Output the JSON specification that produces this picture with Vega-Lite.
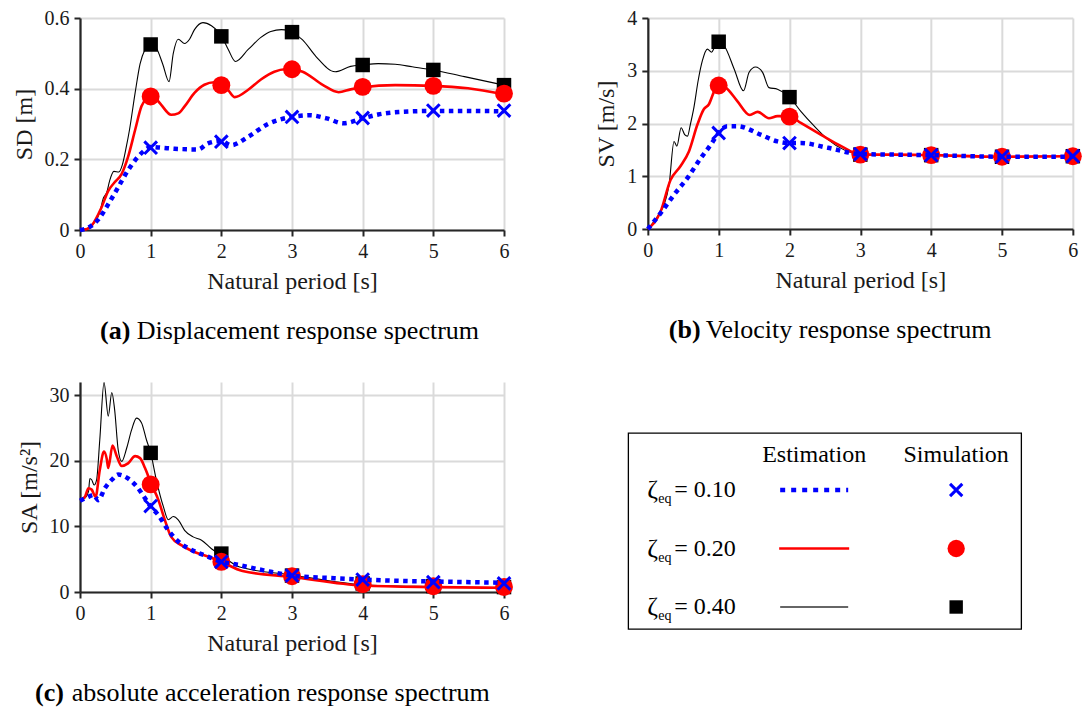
{
"$schema": "https://vega.github.io/schema/vega-lite/v6.json",
"background": "white",
"padding": {"left": 12, "top": 8, "right": 5, "bottom": 5},
"config": {
 "font": "Liberation Serif",
 "view": {"stroke": null},
 "axis": {"labelFont": "Liberation Serif", "titleFont": "Liberation Serif", "labelFontSize": 20, "titleFontSize": 24, "titleFontWeight": "normal", "labelColor": "#1a1a1a", "titleColor": "#1a1a1a", "domainColor": "#262626", "domainWidth": 2.2, "tickColor": "#262626", "tickWidth": 2, "tickSize": 6, "gridColor": "#dadada", "gridWidth": 2, "labelPadding": 5, "titlePadding": 8, "labelFlush": false},
 "title": {"font": "Liberation Serif", "fontSize": 26, "fontWeight": "bold", "color": "#000", "orient": "bottom", "anchor": "start", "frame": "group", "subtitleFont": "Liberation Serif", "subtitleFontSize": 26, "subtitleFontWeight": "normal", "subtitleColor": "#000", "subtitlePadding": -26}
},
"datasets": {
 "est": [
  {"p":"D","z":"0.40","T":0,"v":0},{"p":"D","z":"0.40","T":0.1,"v":0.004},{"p":"D","z":"0.40","T":0.2,"v":0.02},{"p":"D","z":"0.40","T":0.28,"v":0.05},{"p":"D","z":"0.40","T":0.33,"v":0.09},{"p":"D","z":"0.40","T":0.38,"v":0.107},{"p":"D","z":"0.40","T":0.42,"v":0.14},{"p":"D","z":"0.40","T":0.48,"v":0.166},{"p":"D","z":"0.40","T":0.55,"v":0.164},{"p":"D","z":"0.40","T":0.6,"v":0.185},{"p":"D","z":"0.40","T":0.65,"v":0.23},{"p":"D","z":"0.40","T":0.7,"v":0.283},{"p":"D","z":"0.40","T":0.78,"v":0.388},{"p":"D","z":"0.40","T":0.85,"v":0.47},{"p":"D","z":"0.40","T":0.92,"v":0.511},{"p":"D","z":"0.40","T":1.0,"v":0.527},{"p":"D","z":"0.40","T":1.08,"v":0.515},{"p":"D","z":"0.40","T":1.17,"v":0.47},{"p":"D","z":"0.40","T":1.26,"v":0.42},{"p":"D","z":"0.40","T":1.32,"v":0.5},{"p":"D","z":"0.40","T":1.39,"v":0.54},{"p":"D","z":"0.40","T":1.48,"v":0.528},{"p":"D","z":"0.40","T":1.55,"v":0.54},{"p":"D","z":"0.40","T":1.62,"v":0.567},{"p":"D","z":"0.40","T":1.74,"v":0.587},{"p":"D","z":"0.40","T":1.86,"v":0.578},{"p":"D","z":"0.40","T":1.95,"v":0.562},{"p":"D","z":"0.40","T":2.0,"v":0.55},{"p":"D","z":"0.40","T":2.1,"v":0.51},{"p":"D","z":"0.40","T":2.2,"v":0.477},{"p":"D","z":"0.40","T":2.38,"v":0.511},{"p":"D","z":"0.40","T":2.56,"v":0.545},{"p":"D","z":"0.40","T":2.7,"v":0.562},{"p":"D","z":"0.40","T":2.85,"v":0.567},{"p":"D","z":"0.40","T":2.95,"v":0.565},{"p":"D","z":"0.40","T":3.0,"v":0.56},{"p":"D","z":"0.40","T":3.15,"v":0.538},{"p":"D","z":"0.40","T":3.34,"v":0.491},{"p":"D","z":"0.40","T":3.61,"v":0.448},{"p":"D","z":"0.40","T":3.83,"v":0.463},{"p":"D","z":"0.40","T":4.0,"v":0.467},{"p":"D","z":"0.40","T":4.22,"v":0.471},{"p":"D","z":"0.40","T":4.46,"v":0.469},{"p":"D","z":"0.40","T":4.7,"v":0.462},{"p":"D","z":"0.40","T":5.0,"v":0.453},{"p":"D","z":"0.40","T":5.44,"v":0.434},{"p":"D","z":"0.40","T":6.0,"v":0.41},
  {"p":"D","z":"0.20","T":0,"v":0},{"p":"D","z":"0.20","T":0.1,"v":0.003},{"p":"D","z":"0.20","T":0.17,"v":0.014},{"p":"D","z":"0.20","T":0.3,"v":0.062},{"p":"D","z":"0.20","T":0.4,"v":0.111},{"p":"D","z":"0.20","T":0.49,"v":0.135},{"p":"D","z":"0.20","T":0.59,"v":0.159},{"p":"D","z":"0.20","T":0.68,"v":0.207},{"p":"D","z":"0.20","T":0.78,"v":0.283},{"p":"D","z":"0.20","T":0.87,"v":0.35},{"p":"D","z":"0.20","T":0.94,"v":0.372},{"p":"D","z":"0.20","T":1.0,"v":0.378},{"p":"D","z":"0.20","T":1.08,"v":0.37},{"p":"D","z":"0.20","T":1.15,"v":0.354},{"p":"D","z":"0.20","T":1.29,"v":0.326},{"p":"D","z":"0.20","T":1.39,"v":0.33},{"p":"D","z":"0.20","T":1.48,"v":0.35},{"p":"D","z":"0.20","T":1.62,"v":0.388},{"p":"D","z":"0.20","T":1.76,"v":0.411},{"p":"D","z":"0.20","T":1.9,"v":0.418},{"p":"D","z":"0.20","T":2.0,"v":0.415},{"p":"D","z":"0.20","T":2.1,"v":0.395},{"p":"D","z":"0.20","T":2.19,"v":0.376},{"p":"D","z":"0.20","T":2.38,"v":0.397},{"p":"D","z":"0.20","T":2.56,"v":0.426},{"p":"D","z":"0.20","T":2.75,"v":0.448},{"p":"D","z":"0.20","T":2.9,"v":0.455},{"p":"D","z":"0.20","T":3.0,"v":0.455},{"p":"D","z":"0.20","T":3.15,"v":0.448},{"p":"D","z":"0.20","T":3.44,"v":0.41},{"p":"D","z":"0.20","T":3.66,"v":0.39},{"p":"D","z":"0.20","T":3.83,"v":0.398},{"p":"D","z":"0.20","T":4.0,"v":0.404},{"p":"D","z":"0.20","T":4.46,"v":0.41},{"p":"D","z":"0.20","T":5.0,"v":0.408},{"p":"D","z":"0.20","T":5.49,"v":0.401},{"p":"D","z":"0.20","T":6.0,"v":0.384},
  {"p":"D","z":"0.10","T":0,"v":0},{"p":"D","z":"0.10","T":0.12,"v":0.007},{"p":"D","z":"0.10","T":0.26,"v":0.03},{"p":"D","z":"0.10","T":0.4,"v":0.073},{"p":"D","z":"0.10","T":0.54,"v":0.121},{"p":"D","z":"0.10","T":0.68,"v":0.169},{"p":"D","z":"0.10","T":0.82,"v":0.207},{"p":"D","z":"0.10","T":0.92,"v":0.226},{"p":"D","z":"0.10","T":1.0,"v":0.235},{"p":"D","z":"0.10","T":1.15,"v":0.233},{"p":"D","z":"0.10","T":1.34,"v":0.23},{"p":"D","z":"0.10","T":1.67,"v":0.228},{"p":"D","z":"0.10","T":1.81,"v":0.245},{"p":"D","z":"0.10","T":2.0,"v":0.252},{"p":"D","z":"0.10","T":2.14,"v":0.24},{"p":"D","z":"0.10","T":2.38,"v":0.264},{"p":"D","z":"0.10","T":2.66,"v":0.3},{"p":"D","z":"0.10","T":3.0,"v":0.32},{"p":"D","z":"0.10","T":3.25,"v":0.325},{"p":"D","z":"0.10","T":3.49,"v":0.316},{"p":"D","z":"0.10","T":3.73,"v":0.302},{"p":"D","z":"0.10","T":4.0,"v":0.316},{"p":"D","z":"0.10","T":4.22,"v":0.327},{"p":"D","z":"0.10","T":4.51,"v":0.334},{"p":"D","z":"0.10","T":5.0,"v":0.337},{"p":"D","z":"0.10","T":5.49,"v":0.337},{"p":"D","z":"0.10","T":6.0,"v":0.336},
  {"p":"V","z":"0.40","T":0,"v":0},{"p":"V","z":"0.40","T":0.18,"v":0.33},{"p":"V","z":"0.40","T":0.23,"v":0.46},{"p":"V","z":"0.40","T":0.3,"v":0.84},{"p":"V","z":"0.40","T":0.37,"v":1.66},{"p":"V","z":"0.40","T":0.41,"v":1.57},{"p":"V","z":"0.40","T":0.47,"v":1.92},{"p":"V","z":"0.40","T":0.52,"v":1.79},{"p":"V","z":"0.40","T":0.56,"v":1.76},{"p":"V","z":"0.40","T":0.6,"v":1.98},{"p":"V","z":"0.40","T":0.65,"v":2.3},{"p":"V","z":"0.40","T":0.71,"v":2.81},{"p":"V","z":"0.40","T":0.77,"v":3.19},{"p":"V","z":"0.40","T":0.84,"v":3.41},{"p":"V","z":"0.40","T":0.9,"v":3.35},{"p":"V","z":"0.40","T":0.94,"v":3.44},{"p":"V","z":"0.40","T":1.0,"v":3.55},{"p":"V","z":"0.40","T":1.08,"v":3.47},{"p":"V","z":"0.40","T":1.22,"v":3.03},{"p":"V","z":"0.40","T":1.35,"v":2.62},{"p":"V","z":"0.40","T":1.43,"v":2.97},{"p":"V","z":"0.40","T":1.52,"v":3.07},{"p":"V","z":"0.40","T":1.62,"v":2.97},{"p":"V","z":"0.40","T":1.71,"v":2.68},{"p":"V","z":"0.40","T":1.83,"v":2.65},{"p":"V","z":"0.40","T":2.0,"v":2.5},{"p":"V","z":"0.40","T":2.16,"v":2.23},{"p":"V","z":"0.40","T":2.35,"v":1.95},{"p":"V","z":"0.40","T":2.54,"v":1.7},{"p":"V","z":"0.40","T":2.77,"v":1.5},{"p":"V","z":"0.40","T":3.0,"v":1.41},{"p":"V","z":"0.40","T":3.5,"v":1.41},{"p":"V","z":"0.40","T":4.0,"v":1.4},{"p":"V","z":"0.40","T":5.0,"v":1.37},{"p":"V","z":"0.40","T":6.0,"v":1.38},
  {"p":"V","z":"0.20","T":0,"v":0},{"p":"V","z":"0.20","T":0.18,"v":0.33},{"p":"V","z":"0.20","T":0.32,"v":0.93},{"p":"V","z":"0.20","T":0.46,"v":1.19},{"p":"V","z":"0.20","T":0.58,"v":1.47},{"p":"V","z":"0.20","T":0.7,"v":1.98},{"p":"V","z":"0.20","T":0.79,"v":2.27},{"p":"V","z":"0.20","T":0.86,"v":2.36},{"p":"V","z":"0.20","T":0.94,"v":2.62},{"p":"V","z":"0.20","T":1.0,"v":2.73},{"p":"V","z":"0.20","T":1.1,"v":2.68},{"p":"V","z":"0.20","T":1.26,"v":2.43},{"p":"V","z":"0.20","T":1.44,"v":2.16},{"p":"V","z":"0.20","T":1.55,"v":2.22},{"p":"V","z":"0.20","T":1.71,"v":2.1},{"p":"V","z":"0.20","T":1.83,"v":2.14},{"p":"V","z":"0.20","T":2.0,"v":2.14},{"p":"V","z":"0.20","T":2.16,"v":2.01},{"p":"V","z":"0.20","T":2.44,"v":1.79},{"p":"V","z":"0.20","T":2.73,"v":1.57},{"p":"V","z":"0.20","T":3.0,"v":1.41},{"p":"V","z":"0.20","T":3.48,"v":1.41},{"p":"V","z":"0.20","T":4.0,"v":1.4},{"p":"V","z":"0.20","T":5.0,"v":1.37},{"p":"V","z":"0.20","T":6.0,"v":1.38},
  {"p":"V","z":"0.10","T":0,"v":0},{"p":"V","z":"0.10","T":0.18,"v":0.3},{"p":"V","z":"0.10","T":0.37,"v":0.65},{"p":"V","z":"0.10","T":0.56,"v":0.97},{"p":"V","z":"0.10","T":0.75,"v":1.35},{"p":"V","z":"0.10","T":0.89,"v":1.6},{"p":"V","z":"0.10","T":1.0,"v":1.82},{"p":"V","z":"0.10","T":1.12,"v":1.95},{"p":"V","z":"0.10","T":1.26,"v":1.95},{"p":"V","z":"0.10","T":1.59,"v":1.79},{"p":"V","z":"0.10","T":1.83,"v":1.66},{"p":"V","z":"0.10","T":2.0,"v":1.63},{"p":"V","z":"0.10","T":2.16,"v":1.63},{"p":"V","z":"0.10","T":2.54,"v":1.54},{"p":"V","z":"0.10","T":3.0,"v":1.42},{"p":"V","z":"0.10","T":3.48,"v":1.41},{"p":"V","z":"0.10","T":4.0,"v":1.4},{"p":"V","z":"0.10","T":5.0,"v":1.37},{"p":"V","z":"0.10","T":6.0,"v":1.37},
  {"p":"A","z":"0.40","T":0,"v":14.0},{"p":"A","z":"0.40","T":0.07,"v":14.3},{"p":"A","z":"0.40","T":0.12,"v":15.3},{"p":"A","z":"0.40","T":0.14,"v":17.3},{"p":"A","z":"0.40","T":0.165,"v":17.1},{"p":"A","z":"0.40","T":0.2,"v":16.3},{"p":"A","z":"0.40","T":0.235,"v":17.1},{"p":"A","z":"0.40","T":0.28,"v":23.2},{"p":"A","z":"0.40","T":0.34,"v":31.9},{"p":"A","z":"0.40","T":0.4,"v":26.8},{"p":"A","z":"0.40","T":0.45,"v":30.4},{"p":"A","z":"0.40","T":0.49,"v":27.8},{"p":"A","z":"0.40","T":0.54,"v":21.7},{"p":"A","z":"0.40","T":0.59,"v":19.9},{"p":"A","z":"0.40","T":0.66,"v":21.9},{"p":"A","z":"0.40","T":0.73,"v":24.7},{"p":"A","z":"0.40","T":0.8,"v":26.5},{"p":"A","z":"0.40","T":0.87,"v":25.8},{"p":"A","z":"0.40","T":0.94,"v":23.2},{"p":"A","z":"0.40","T":1.0,"v":21.2},{"p":"A","z":"0.40","T":1.08,"v":17.1},{"p":"A","z":"0.40","T":1.18,"v":13.0},{"p":"A","z":"0.40","T":1.25,"v":11.0},{"p":"A","z":"0.40","T":1.32,"v":11.5},{"p":"A","z":"0.40","T":1.39,"v":11.0},{"p":"A","z":"0.40","T":1.48,"v":9.4},{"p":"A","z":"0.40","T":1.6,"v":8.4},{"p":"A","z":"0.40","T":1.72,"v":7.9},{"p":"A","z":"0.40","T":1.86,"v":6.6},{"p":"A","z":"0.40","T":2.0,"v":5.6},{"p":"A","z":"0.40","T":2.26,"v":3.8},{"p":"A","z":"0.40","T":3.0,"v":2.6},{"p":"A","z":"0.40","T":4.0,"v":1.1},{"p":"A","z":"0.40","T":5.0,"v":0.8},{"p":"A","z":"0.40","T":6.0,"v":0.6},
  {"p":"A","z":"0.20","T":0,"v":14.0},{"p":"A","z":"0.20","T":0.07,"v":14.5},{"p":"A","z":"0.20","T":0.12,"v":15.8},{"p":"A","z":"0.20","T":0.165,"v":15.6},{"p":"A","z":"0.20","T":0.22,"v":14.5},{"p":"A","z":"0.20","T":0.28,"v":18.6},{"p":"A","z":"0.20","T":0.34,"v":21.4},{"p":"A","z":"0.20","T":0.38,"v":20.2},{"p":"A","z":"0.20","T":0.4,"v":18.9},{"p":"A","z":"0.20","T":0.46,"v":22.3},{"p":"A","z":"0.20","T":0.52,"v":20.7},{"p":"A","z":"0.20","T":0.59,"v":19.2},{"p":"A","z":"0.20","T":0.68,"v":19.6},{"p":"A","z":"0.20","T":0.78,"v":20.7},{"p":"A","z":"0.20","T":0.85,"v":20.4},{"p":"A","z":"0.20","T":0.92,"v":18.9},{"p":"A","z":"0.20","T":1.0,"v":16.7},{"p":"A","z":"0.20","T":1.11,"v":14.0},{"p":"A","z":"0.20","T":1.2,"v":11.0},{"p":"A","z":"0.20","T":1.29,"v":8.4},{"p":"A","z":"0.20","T":1.44,"v":7.1},{"p":"A","z":"0.20","T":1.62,"v":6.1},{"p":"A","z":"0.20","T":1.81,"v":5.4},{"p":"A","z":"0.20","T":2.0,"v":4.6},{"p":"A","z":"0.20","T":2.3,"v":3.2},{"p":"A","z":"0.20","T":3.0,"v":2.3},{"p":"A","z":"0.20","T":4.0,"v":1.0},{"p":"A","z":"0.20","T":5.0,"v":0.75},{"p":"A","z":"0.20","T":6.0,"v":0.65},
  {"p":"A","z":"0.10","T":0,"v":13.9},{"p":"A","z":"0.10","T":0.12,"v":14.5},{"p":"A","z":"0.10","T":0.19,"v":14.8},{"p":"A","z":"0.10","T":0.26,"v":14.0},{"p":"A","z":"0.10","T":0.35,"v":15.8},{"p":"A","z":"0.10","T":0.45,"v":17.1},{"p":"A","z":"0.10","T":0.54,"v":17.9},{"p":"A","z":"0.10","T":0.68,"v":17.3},{"p":"A","z":"0.10","T":0.8,"v":16.1},{"p":"A","z":"0.10","T":0.92,"v":14.3},{"p":"A","z":"0.10","T":1.0,"v":13.0},{"p":"A","z":"0.10","T":1.11,"v":11.7},{"p":"A","z":"0.10","T":1.25,"v":9.4},{"p":"A","z":"0.10","T":1.39,"v":7.7},{"p":"A","z":"0.10","T":1.58,"v":6.4},{"p":"A","z":"0.10","T":1.81,"v":5.4},{"p":"A","z":"0.10","T":2.0,"v":4.6},{"p":"A","z":"0.10","T":2.16,"v":4.3},{"p":"A","z":"0.10","T":2.6,"v":3.3},{"p":"A","z":"0.10","T":3.0,"v":2.5},{"p":"A","z":"0.10","T":3.6,"v":2.1},{"p":"A","z":"0.10","T":4.0,"v":1.9},{"p":"A","z":"0.10","T":4.5,"v":1.7},{"p":"A","z":"0.10","T":5.0,"v":1.6},{"p":"A","z":"0.10","T":6.0,"v":1.4}
 ],
 "sim": [
  {"p":"D","z":"0.40","T":1,"v":0.525},{"p":"D","z":"0.40","T":2,"v":0.548},{"p":"D","z":"0.40","T":3,"v":0.56},{"p":"D","z":"0.40","T":4,"v":0.467},{"p":"D","z":"0.40","T":5,"v":0.453},{"p":"D","z":"0.40","T":6,"v":0.41},
  {"p":"D","z":"0.20","T":1,"v":0.378},{"p":"D","z":"0.20","T":2,"v":0.41},{"p":"D","z":"0.20","T":3,"v":0.455},{"p":"D","z":"0.20","T":4,"v":0.405},{"p":"D","z":"0.20","T":5,"v":0.408},{"p":"D","z":"0.20","T":6,"v":0.386},
  {"p":"D","z":"0.10","T":1,"v":0.233},{"p":"D","z":"0.10","T":2,"v":0.25},{"p":"D","z":"0.10","T":3,"v":0.32},{"p":"D","z":"0.10","T":4,"v":0.317},{"p":"D","z":"0.10","T":5,"v":0.338},{"p":"D","z":"0.10","T":6,"v":0.338},
  {"p":"V","z":"0.40","T":1,"v":3.55},{"p":"V","z":"0.40","T":2,"v":2.5},{"p":"V","z":"0.40","T":3,"v":1.41},{"p":"V","z":"0.40","T":4,"v":1.4},{"p":"V","z":"0.40","T":5,"v":1.37},{"p":"V","z":"0.40","T":6,"v":1.38},
  {"p":"V","z":"0.20","T":1,"v":2.72},{"p":"V","z":"0.20","T":2,"v":2.13},{"p":"V","z":"0.20","T":3,"v":1.41},{"p":"V","z":"0.20","T":4,"v":1.4},{"p":"V","z":"0.20","T":5,"v":1.37},{"p":"V","z":"0.20","T":6,"v":1.38},
  {"p":"V","z":"0.10","T":1,"v":1.82},{"p":"V","z":"0.10","T":2,"v":1.63},{"p":"V","z":"0.10","T":3,"v":1.42},{"p":"V","z":"0.10","T":4,"v":1.4},{"p":"V","z":"0.10","T":5,"v":1.37},{"p":"V","z":"0.10","T":6,"v":1.38},
  {"p":"A","z":"0.40","T":1,"v":21.2},{"p":"A","z":"0.40","T":2,"v":5.85},{"p":"A","z":"0.40","T":3,"v":2.5},{"p":"A","z":"0.40","T":4,"v":1.3},{"p":"A","z":"0.40","T":5,"v":0.9},{"p":"A","z":"0.40","T":6,"v":0.75},
  {"p":"A","z":"0.20","T":1,"v":16.4},{"p":"A","z":"0.20","T":2,"v":4.6},{"p":"A","z":"0.20","T":3,"v":2.4},{"p":"A","z":"0.20","T":4,"v":1.2},{"p":"A","z":"0.20","T":5,"v":0.87},{"p":"A","z":"0.20","T":6,"v":0.77},
  {"p":"A","z":"0.10","T":1,"v":13.1},{"p":"A","z":"0.10","T":2,"v":4.6},{"p":"A","z":"0.10","T":3,"v":2.5},{"p":"A","z":"0.10","T":4,"v":1.9},{"p":"A","z":"0.10","T":5,"v":1.5},{"p":"A","z":"0.10","T":6,"v":1.3}
 ],
 "leg": [{"z":"0.10"},{"z":"0.20"},{"z":"0.40"}],
 "hdr": [{"col":"Estimation"},{"col":"Simulation"}]
},
"spacing": 77,
"hconcat": [
 {"spacing": 36, "vconcat": [
  {"width": 424, "height": 212,
   "title": {"text": "(a)", "subtitle": "\u200d\u2003\u2005\u2006Displacement response spectrum", "dx": 20, "offset": 25},
   "encoding": {
    "x": {"field": "T", "type": "quantitative", "scale": {"domain": [0, 6], "nice": false}, "axis": {"values": [0,1,2,3,4,5,6], "title": "Natural period [s]"}},
    "y": {"field": "v", "type": "quantitative", "scale": {"domain": [0, 0.6], "nice": false}, "axis": {"values": [0,0.2,0.4,0.6], "format": "~r", "title": "SD [m]"}}
   },
   "layer": [
    {"data": {"name": "est"}, "transform": [{"filter": "datum.p === 'D' && datum.z === '0.40'"}], "mark": {"type": "line", "color": "#000", "strokeWidth": 1.1, "interpolate": "monotone"}, "encoding": {}},
    {"data": {"name": "sim"}, "transform": [{"filter": "datum.p === 'D' && datum.z === '0.40'"}], "mark": {"type": "point", "shape": "square", "filled": true, "color": "#000", "size": 210, "opacity": 1}, "encoding": {}},
    {"data": {"name": "est"}, "transform": [{"filter": "datum.p === 'D' && datum.z === '0.20'"}], "mark": {"type": "line", "color": "#ff0000", "strokeWidth": 2.6, "interpolate": "monotone"}, "encoding": {}},
    {"data": {"name": "sim"}, "transform": [{"filter": "datum.p === 'D' && datum.z === '0.20'"}], "mark": {"type": "point", "shape": "circle", "filled": true, "color": "#ff0000", "size": 320, "opacity": 1}, "encoding": {}},
    {"data": {"name": "est"}, "transform": [{"filter": "datum.p === 'D' && datum.z === '0.10'"}], "mark": {"type": "line", "color": "#0000ff", "strokeWidth": 4.5, "strokeDash": [4.5, 4.5], "strokeCap": "butt", "interpolate": "monotone"}, "encoding": {}},
    {"data": {"name": "sim"}, "transform": [{"filter": "datum.p === 'D' && datum.z === '0.10'"}], "mark": {"type": "point", "shape": "M-1,-1L1,1M-1,1L1,-1", "filled": false, "color": "#0000ff", "strokeWidth": 3, "size": 160, "opacity": 1}, "encoding": {}}
   ]
  },
  {"width": 424, "height": 210,
   "title": {"text": "(c)", "subtitle": "\u200d\u2003\u2005\u2006absolute acceleration response spectrum", "dx": -45, "offset": 25},
   "encoding": {
    "x": {"field": "T", "type": "quantitative", "scale": {"domain": [0, 6], "nice": false}, "axis": {"values": [0,1,2,3,4,5,6], "title": "Natural period [s]"}},
    "y": {"field": "v", "type": "quantitative", "scale": {"domain": [0, 32], "nice": false}, "axis": {"values": [0,10,20,30], "format": "~r", "title": "SA [m/s²]"}}
   },
   "layer": [
    {"data": {"name": "est"}, "transform": [{"filter": "datum.p === 'A' && datum.z === '0.40'"}], "mark": {"type": "line", "color": "#000", "strokeWidth": 1.1, "interpolate": "monotone"}, "encoding": {}},
    {"data": {"name": "sim"}, "transform": [{"filter": "datum.p === 'A' && datum.z === '0.40'"}], "mark": {"type": "point", "shape": "square", "filled": true, "color": "#000", "size": 210, "opacity": 1}, "encoding": {}},
    {"data": {"name": "est"}, "transform": [{"filter": "datum.p === 'A' && datum.z === '0.20'"}], "mark": {"type": "line", "color": "#ff0000", "strokeWidth": 2.6, "interpolate": "monotone"}, "encoding": {}},
    {"data": {"name": "sim"}, "transform": [{"filter": "datum.p === 'A' && datum.z === '0.20'"}], "mark": {"type": "point", "shape": "circle", "filled": true, "color": "#ff0000", "size": 320, "opacity": 1}, "encoding": {}},
    {"data": {"name": "est"}, "transform": [{"filter": "datum.p === 'A' && datum.z === '0.10'"}], "mark": {"type": "line", "color": "#0000ff", "strokeWidth": 4.5, "strokeDash": [4.5, 4.5], "strokeCap": "butt", "interpolate": "monotone"}, "encoding": {}},
    {"data": {"name": "sim"}, "transform": [{"filter": "datum.p === 'A' && datum.z === '0.10'"}], "mark": {"type": "point", "shape": "M-1,-1L1,1M-1,1L1,-1", "filled": false, "color": "#0000ff", "strokeWidth": 3, "size": 160, "opacity": 1}, "encoding": {}}
   ]
  }
 ]},
 {"spacing": 89, "center": true, "vconcat": [
  {"width": 425, "height": 211,
   "title": {"text": "(b)", "subtitle": "\u200d\u2003\u2005\u2006Velocity response spectrum", "dx": 21, "offset": 25},
   "encoding": {
    "x": {"field": "T", "type": "quantitative", "scale": {"domain": [0, 6], "nice": false}, "axis": {"values": [0,1,2,3,4,5,6], "title": "Natural period [s]"}},
    "y": {"field": "v", "type": "quantitative", "scale": {"domain": [0, 4], "nice": false}, "axis": {"values": [0,1,2,3,4], "format": "~r", "title": "SV [m/s]"}}
   },
   "layer": [
    {"data": {"name": "est"}, "transform": [{"filter": "datum.p === 'V' && datum.z === '0.40'"}], "mark": {"type": "line", "color": "#000", "strokeWidth": 1.1, "interpolate": "monotone"}, "encoding": {}},
    {"data": {"name": "sim"}, "transform": [{"filter": "datum.p === 'V' && datum.z === '0.40'"}], "mark": {"type": "point", "shape": "square", "filled": true, "color": "#000", "size": 210, "opacity": 1}, "encoding": {}},
    {"data": {"name": "est"}, "transform": [{"filter": "datum.p === 'V' && datum.z === '0.20'"}], "mark": {"type": "line", "color": "#ff0000", "strokeWidth": 2.6, "interpolate": "monotone"}, "encoding": {}},
    {"data": {"name": "sim"}, "transform": [{"filter": "datum.p === 'V' && datum.z === '0.20'"}], "mark": {"type": "point", "shape": "circle", "filled": true, "color": "#ff0000", "size": 320, "opacity": 1}, "encoding": {}},
    {"data": {"name": "est"}, "transform": [{"filter": "datum.p === 'V' && datum.z === '0.10'"}], "mark": {"type": "line", "color": "#0000ff", "strokeWidth": 4.5, "strokeDash": [4.5, 4.5], "strokeCap": "butt", "interpolate": "monotone"}, "encoding": {}},
    {"data": {"name": "sim"}, "transform": [{"filter": "datum.p === 'V' && datum.z === '0.10'"}], "mark": {"type": "point", "shape": "M-1,-1L1,1M-1,1L1,-1", "filled": false, "color": "#0000ff", "strokeWidth": 3, "size": 160, "opacity": 1}, "encoding": {}}
   ]
  },
  {"width": 393, "height": 196,
   "view": {"stroke": "#000", "strokeWidth": 1.3},
   "layer": [
    {"data": {"name": "hdr"}, "mark": {"type": "text", "fontSize": 24, "font": "Liberation Serif", "color": "#000", "dy": -35},
     "encoding": {"x": {"field": "col", "type": "nominal", "scale": {"type": "point", "padding": 0, "domain": ["label","Estimation","Simulation"], "range": [44,328]}, "axis": null},
                  "y": {"datum": "0.10", "type": "nominal", "scale": {"type": "point", "padding": 0, "domain": ["0.10","0.20","0.40"], "range": [57,174]}, "axis": {"orient": "left", "labels": false, "ticks": false, "grid": false, "title": null, "domain": true, "domainColor": "transparent", "offset": -476}},
                  "text": {"field": "col"}}},
    {"data": {"name": "leg"}, "mark": {"type": "text", "text": "ζ", "align": "left", "fontSize": 26, "font": "Liberation Serif", "color": "#000", "dx": -25},
     "encoding": {"x": {"datum": "label", "type": "nominal", "scale": {"type": "point", "padding": 0, "domain": ["label","Estimation","Simulation"], "range": [44,328]}, "axis": null},
                  "y": {"field": "z", "type": "nominal", "scale": {"type": "point", "padding": 0, "domain": ["0.10","0.20","0.40"], "range": [57,174]}, "axis": {"orient": "left", "labels": false, "ticks": false, "grid": false, "title": null, "domain": true, "domainColor": "transparent", "offset": -476}}}},
    {"data": {"name": "leg"}, "mark": {"type": "text", "text": "eq", "align": "left", "fontSize": 14, "font": "Liberation Serif", "color": "#000", "dx": -14, "dy": 9},
     "encoding": {"x": {"datum": "label", "type": "nominal", "scale": {"type": "point", "padding": 0, "domain": ["label","Estimation","Simulation"], "range": [44,328]}, "axis": null},
                  "y": {"field": "z", "type": "nominal", "scale": {"type": "point", "padding": 0, "domain": ["0.10","0.20","0.40"], "range": [57,174]}, "axis": {"orient": "left", "labels": false, "ticks": false, "grid": false, "title": null, "domain": true, "domainColor": "transparent", "offset": -476}}}},
    {"data": {"name": "leg"}, "transform": [{"calculate": "'= ' + datum.z", "as": "lab"}], "mark": {"type": "text", "align": "left", "fontSize": 24, "font": "Liberation Serif", "color": "#000", "dx": 2},
     "encoding": {"x": {"datum": "label", "type": "nominal", "scale": {"type": "point", "padding": 0, "domain": ["label","Estimation","Simulation"], "range": [44,328]}, "axis": null},
                  "y": {"field": "z", "type": "nominal", "scale": {"type": "point", "padding": 0, "domain": ["0.10","0.20","0.40"], "range": [57,174]}, "axis": {"orient": "left", "labels": false, "ticks": false, "grid": false, "title": null, "domain": true, "domainColor": "transparent", "offset": -476}},
                  "text": {"field": "lab"}}},
    {"data": {"name": "leg"}, "transform": [{"filter": "datum.z === '0.10'"}], "mark": {"type": "rule", "color": "#0000ff", "strokeWidth": 4.5, "strokeDash": [5, 6], "strokeCap": "butt", "xOffset": -34, "x2Offset": 34},
     "encoding": {"x": {"datum": "Estimation", "type": "nominal", "scale": {"type": "point", "padding": 0, "domain": ["label","Estimation","Simulation"], "range": [44,328]}, "axis": null}, "x2": {"datum": "Estimation"},
                  "y": {"field": "z", "type": "nominal", "scale": {"type": "point", "padding": 0, "domain": ["0.10","0.20","0.40"], "range": [57,174]}, "axis": {"orient": "left", "labels": false, "ticks": false, "grid": false, "title": null, "domain": true, "domainColor": "transparent", "offset": -476}}}},
    {"data": {"name": "leg"}, "transform": [{"filter": "datum.z === '0.20'"}], "mark": {"type": "rule", "color": "#ff0000", "strokeWidth": 2.6, "xOffset": -35, "x2Offset": 35},
     "encoding": {"x": {"datum": "Estimation", "type": "nominal", "scale": {"type": "point", "padding": 0, "domain": ["label","Estimation","Simulation"], "range": [44,328]}, "axis": null}, "x2": {"datum": "Estimation"},
                  "y": {"field": "z", "type": "nominal", "scale": {"type": "point", "padding": 0, "domain": ["0.10","0.20","0.40"], "range": [57,174]}, "axis": {"orient": "left", "labels": false, "ticks": false, "grid": false, "title": null, "domain": true, "domainColor": "transparent", "offset": -476}}}},
    {"data": {"name": "leg"}, "transform": [{"filter": "datum.z === '0.40'"}], "mark": {"type": "rule", "color": "#333", "strokeWidth": 1.3, "xOffset": -34, "x2Offset": 34},
     "encoding": {"x": {"datum": "Estimation", "type": "nominal", "scale": {"type": "point", "padding": 0, "domain": ["label","Estimation","Simulation"], "range": [44,328]}, "axis": null}, "x2": {"datum": "Estimation"},
                  "y": {"field": "z", "type": "nominal", "scale": {"type": "point", "padding": 0, "domain": ["0.10","0.20","0.40"], "range": [57,174]}, "axis": {"orient": "left", "labels": false, "ticks": false, "grid": false, "title": null, "domain": true, "domainColor": "transparent", "offset": -476}}}},
    {"data": {"name": "leg"}, "transform": [{"filter": "datum.z === '0.10'"}], "mark": {"type": "point", "shape": "M-1,-1L1,1M-1,1L1,-1", "filled": false, "color": "#0000ff", "strokeWidth": 3, "size": 150, "opacity": 1},
     "encoding": {"x": {"datum": "Simulation", "type": "nominal", "scale": {"type": "point", "padding": 0, "domain": ["label","Estimation","Simulation"], "range": [44,328]}, "axis": null},
                  "y": {"field": "z", "type": "nominal", "scale": {"type": "point", "padding": 0, "domain": ["0.10","0.20","0.40"], "range": [57,174]}, "axis": {"orient": "left", "labels": false, "ticks": false, "grid": false, "title": null, "domain": true, "domainColor": "transparent", "offset": -476}}}},
    {"data": {"name": "leg"}, "transform": [{"filter": "datum.z === '0.20'"}], "mark": {"type": "point", "shape": "circle", "filled": true, "color": "#ff0000", "size": 300, "opacity": 1},
     "encoding": {"x": {"datum": "Simulation", "type": "nominal", "scale": {"type": "point", "padding": 0, "domain": ["label","Estimation","Simulation"], "range": [44,328]}, "axis": null},
                  "y": {"field": "z", "type": "nominal", "scale": {"type": "point", "padding": 0, "domain": ["0.10","0.20","0.40"], "range": [57,174]}, "axis": {"orient": "left", "labels": false, "ticks": false, "grid": false, "title": null, "domain": true, "domainColor": "transparent", "offset": -476}}}},
    {"data": {"name": "leg"}, "transform": [{"filter": "datum.z === '0.40'"}], "mark": {"type": "point", "shape": "square", "filled": true, "color": "#000", "size": 180, "opacity": 1},
     "encoding": {"x": {"datum": "Simulation", "type": "nominal", "scale": {"type": "point", "padding": 0, "domain": ["label","Estimation","Simulation"], "range": [44,328]}, "axis": null},
                  "y": {"field": "z", "type": "nominal", "scale": {"type": "point", "padding": 0, "domain": ["0.10","0.20","0.40"], "range": [57,174]}, "axis": {"orient": "left", "labels": false, "ticks": false, "grid": false, "title": null, "domain": true, "domainColor": "transparent", "offset": -476}}}}
   ]
  }
 ]}
]
}
